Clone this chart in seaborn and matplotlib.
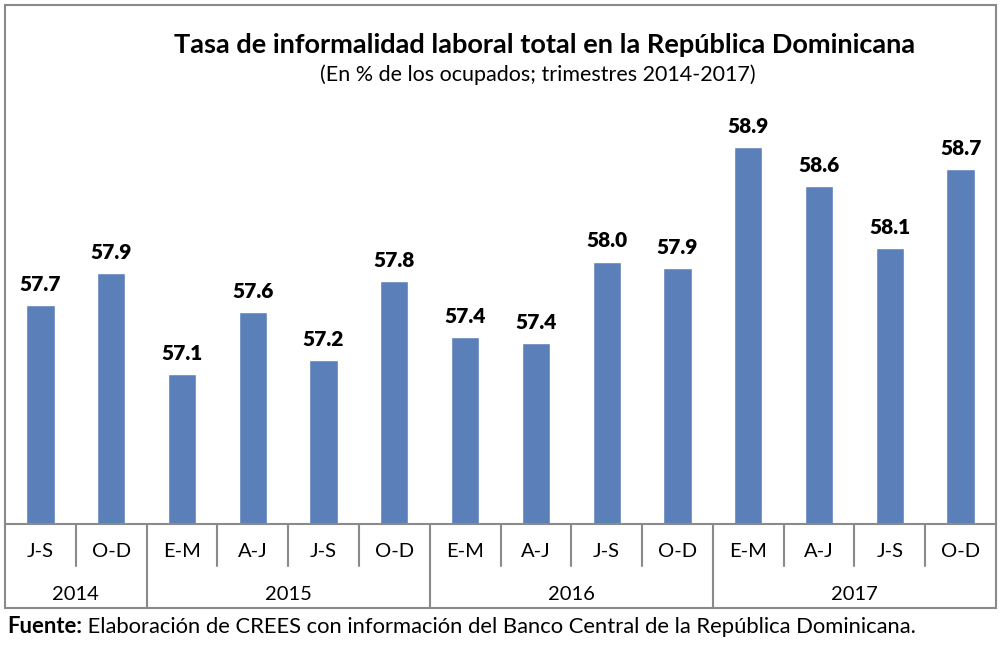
import pandas as pd
import seaborn as sns
import matplotlib.pyplot as plt
from matplotlib.patches import Rectangle

# datos (trimestres 2014-2017)
anios = ["2014", "2014",
         "2015", "2015", "2015", "2015",
         "2016", "2016", "2016", "2016",
         "2017", "2017", "2017", "2017"]
trimestres = ["J-S", "O-D",
              "E-M", "A-J", "J-S", "O-D",
              "E-M", "A-J", "J-S", "O-D",
              "E-M", "A-J", "J-S", "O-D"]
tasa = [57.66, 57.90,
        57.14, 57.61, 57.24, 57.84,
        57.42, 57.37, 57.99, 57.94,
        58.86, 58.56, 58.09, 58.69]

titulo = "Tasa de informalidad laboral total en la República Dominicana"
subtitulo = "(En % de los ocupados; trimestres 2014-2017)"
fuente_b = "Fuente:"
fuente = " Elaboración de CREES con información del Banco Central de la República Dominicana."

df = pd.DataFrame({"anio": anios, "trimestre": trimestres, "tasa": tasa})
df["periodo"] = df["anio"] + " " + df["trimestre"]

sns.set_style("white")
plt.rcParams['font.family'] = ['Lato', 'DejaVu Sans']
plt.rcParams['text.color'] = 'black'
plt.rcParams['xtick.color'] = 'black'

azul = "#5B80B9"
gris = "#8A8A8A"

W, H = 1002, 654
fig = plt.figure(figsize=(W / 100, H / 100), dpi=100)
ax_h = 422
ax = fig.add_axes([5 / W, 130 / H, 991 / W, ax_h / H])

sns.barplot(data=df, x="periodo", y="tasa", color=azul, saturation=1,
            width=0.4, ax=ax)
ax.set_ylim(56, 59.2)
ax.set_xlim(-0.5, len(df) - 0.5)

ax.bar_label(ax.containers[0], labels=[f"{v:.1f}" for v in df["tasa"]],
             padding=8, fontsize=15, fontweight="heavy", color="black")

for s in ["left", "top", "right"]:
    ax.spines[s].set_visible(False)
ax.spines["bottom"].set_color(gris)
ax.spines["bottom"].set_linewidth(1.5)
ax.set_yticks([])
ax.set_ylabel("")
ax.set_xlabel("")

# eje de dos niveles
ax.set_xticks(range(len(df)))
ax.set_xticklabels(df["trimestre"])
ax.tick_params(axis="x", length=0, pad=13.5, labelsize=14.5, labelcolor="black")

trans = ax.get_xaxis_transform()
for i in range(len(df) - 1):
    b = i + 0.5
    cambio = df["anio"][i] != df["anio"][i + 1]
    y1 = -84 / ax_h if cambio else -42 / ax_h
    ax.plot([b, b], [0, y1], color=gris, lw=1.5, transform=trans, clip_on=False)

for anio, grupo in df.groupby("anio"):
    centro = grupo.index.to_numpy().mean()
    ax.text(centro, -71 / ax_h, anio, ha="center", va="center",
            fontsize=14.5, transform=trans)

fig.add_artist(Rectangle((5 / W, 46 / H), 991 / W, 603 / H, transform=fig.transFigure,
                         fill=False, ec=gris, lw=1.5))

fig.text(545 / W, 1 - 45 / H, titulo, ha="center", va="center",
         fontsize=19.5, fontweight="bold")
fig.text(538 / W, 1 - 75 / H, subtitulo, ha="center", va="center", fontsize=15.5)

t1 = fig.text(7 / W, 1 - 633 / H, fuente_b, ha="left", va="baseline",
              fontsize=15.8, fontweight="bold")
fig.canvas.draw()
bb = t1.get_window_extent()
fig.text(bb.x1 / W, 1 - 633 / H, fuente, ha="left", va="baseline", fontsize=15.8)

fig.savefig("out.png", dpi=100)
